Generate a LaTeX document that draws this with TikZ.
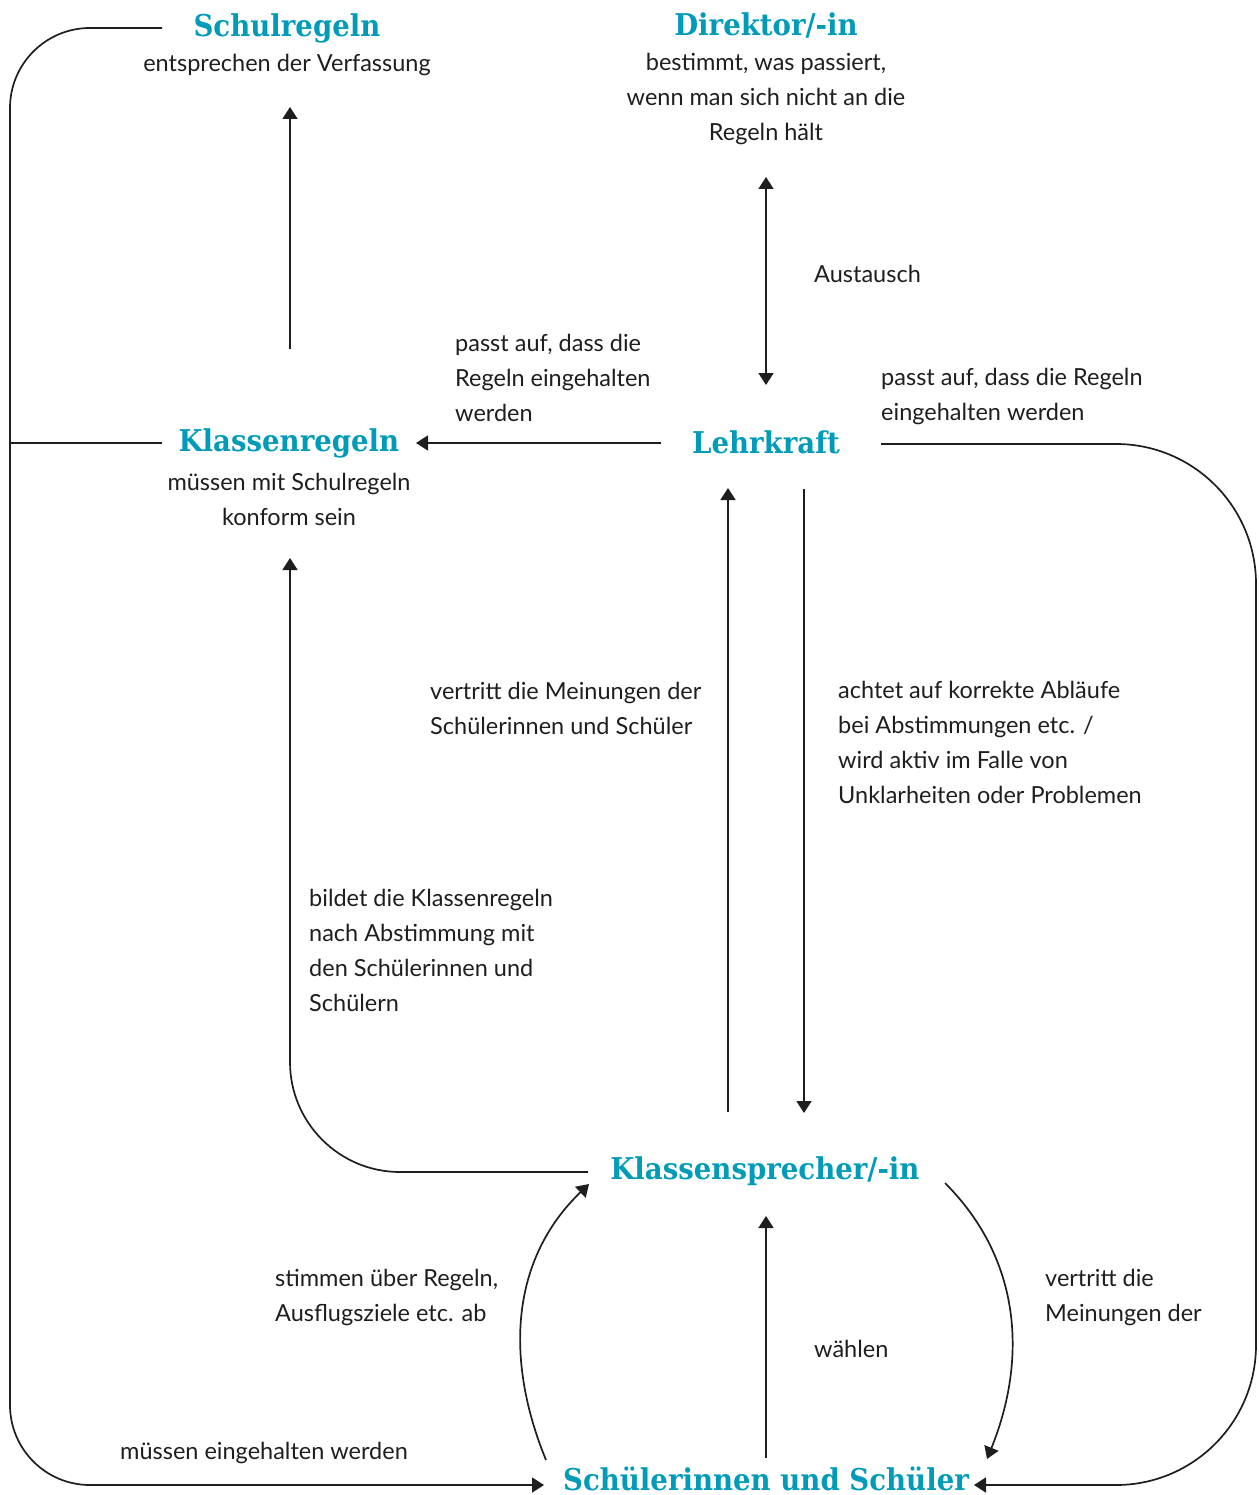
\documentclass[tikz,border=0pt]{standalone}
\usepackage{fontspec}
\setmainfont{Lato}
\newfontfamily\titlefont[FakeStretch=0.92]{DejaVu Serif}
\usetikzlibrary{arrows.meta}
\definecolor{tealT}{RGB}{0,155,185}
\definecolor{ink}{RGB}{30,30,30}
\begin{document}
\begin{tikzpicture}[x=1pt,y=-1pt,
  title/.style={font=\titlefont\bfseries\fontsize{30}{36}\selectfont, text=tealT, inner sep=0pt},
  body/.style={font=\fontsize{23.5}{35}\selectfont, text=ink, inner sep=0pt, align=center},
  lbl/.style={font=\fontsize{23.5}{35}\selectfont, text=ink, inner sep=0pt, align=left, anchor=west},
  conn/.style={line width=1.7pt, draw=ink},
  arr/.style={conn, -{Triangle[width=15pt,length=12pt]}},
  arrboth/.style={conn, {Triangle[width=15pt,length=12pt]}-{Triangle[width=15pt,length=12pt]}}
]
\useasboundingbox (0,0) rectangle (1258,1495);

% nodes
\node[title] (schul) at (287,28) {Schulregeln};
\node[body] (schulT) at (287,65) {entsprechen der Verfassung};
\node[title] (dir) at (766,25) {Direktor/-in};
\node[body] (dirT) at (766,99) {bestimmt, was passiert,\\wenn man sich nicht an die\\Regeln hält};
\node[title] (kreg) at (289,443) {Klassenregeln};
\node[body] (kregT) at (289,499) {müssen mit Schulregeln\\konform sein};
\node[title] (lehr) at (766,442) {Lehrkraft};
\node[title] (ksp) at (765,1171) {Klassensprecher/-in};
\node[title] (sus) at (766,1479) {Schülerinnen und Schüler};

% labels
\node[lbl] (lAus) at (814,274) {Austausch};
\node[lbl] (lPass1) at (455,378) {passt auf, dass die\\Regeln eingehalten\\werden};
\node[lbl] (lPass2) at (881,396) {passt auf, dass die Regeln\\eingehalten werden};
\node[lbl] (lVert1) at (430,708) {vertritt die Meinungen der\\Schülerinnen und Schüler};
\node[lbl] (lAcht) at (838,742) {achtet auf korrekte Abläufe\\bei Abstimmungen etc. /\\wird aktiv im Falle von\\Unklarheiten oder Problemen};
\node[lbl] (lBild) at (309,950) {bildet die Klassenregeln\\nach Abstimmung mit\\den Schülerinnen und\\Schülern};
\node[lbl] (lStimm) at (275,1297) {stimmen über Regeln,\\Ausflugsziele etc. ab};
\node[lbl] (lWahl) at (814,1349) {wählen};
\node[lbl] (lVert2) at (1045,1297) {vertritt die\\Meinungen der};
\node[lbl] (lMuss) at (120,1453) {müssen eingehalten werden};

% coordinates for connector ends
\coordinate (schulL) at (162,28);
\coordinate (schulB) at (290,107);
\coordinate (kregTop) at (290,349);
\coordinate (kregL) at (162,443);
\coordinate (kregBot) at (290,558);
\coordinate (dirB) at (766,177);
\coordinate (lehrT) at (766,385);
\coordinate (lehrL) at (661,443);
\coordinate (kregR) at (416,443);
\coordinate (lehrR) at (881,444);
\coordinate (lehrB1) at (728,488);
\coordinate (lehrB2) at (804,489);
\coordinate (kspT1) at (728,1112);
\coordinate (kspT2) at (804,1113);
\coordinate (kspL) at (588,1172);
\coordinate (kspLa) at (589,1184);
\coordinate (kspR) at (945,1183);
\coordinate (kspB) at (766,1216);
\coordinate (susT) at (766,1458);
\coordinate (susL) at (544,1485);
\coordinate (susLa) at (546,1460);
\coordinate (susRa) at (987,1459);
\coordinate (susR) at (974,1485);

% connectors
\draw[arr] (kregTop) -- (schulB);
\draw[arrboth] (dirB) -- (lehrT);
\draw[arr] (lehrL) -- (kregR);
\draw[conn] (kregL) -- (10,443);
\draw[arr, rounded corners=80pt] (schulL) -- (10,28) -- (10,1485) -- (susL);
\draw[arr, rounded corners=140pt] (lehrR) -- (1256,444) -- (1256,1485) -- (susR);
\draw[arr] (kspT1) -- (lehrB1);
\draw[arr] (lehrB2) -- (kspT2);
\draw[arr, rounded corners=110pt] (kspL) -- (290,1172) -- (kregBot);
\draw[arr] (susLa) .. controls (505,1360) and (510,1260) .. (kspLa);
\draw[arr] (susT) -- (kspB);
\draw[arr] (kspR) .. controls (1022,1260) and (1027,1360) .. (susRa);
\end{tikzpicture}
\end{document}
